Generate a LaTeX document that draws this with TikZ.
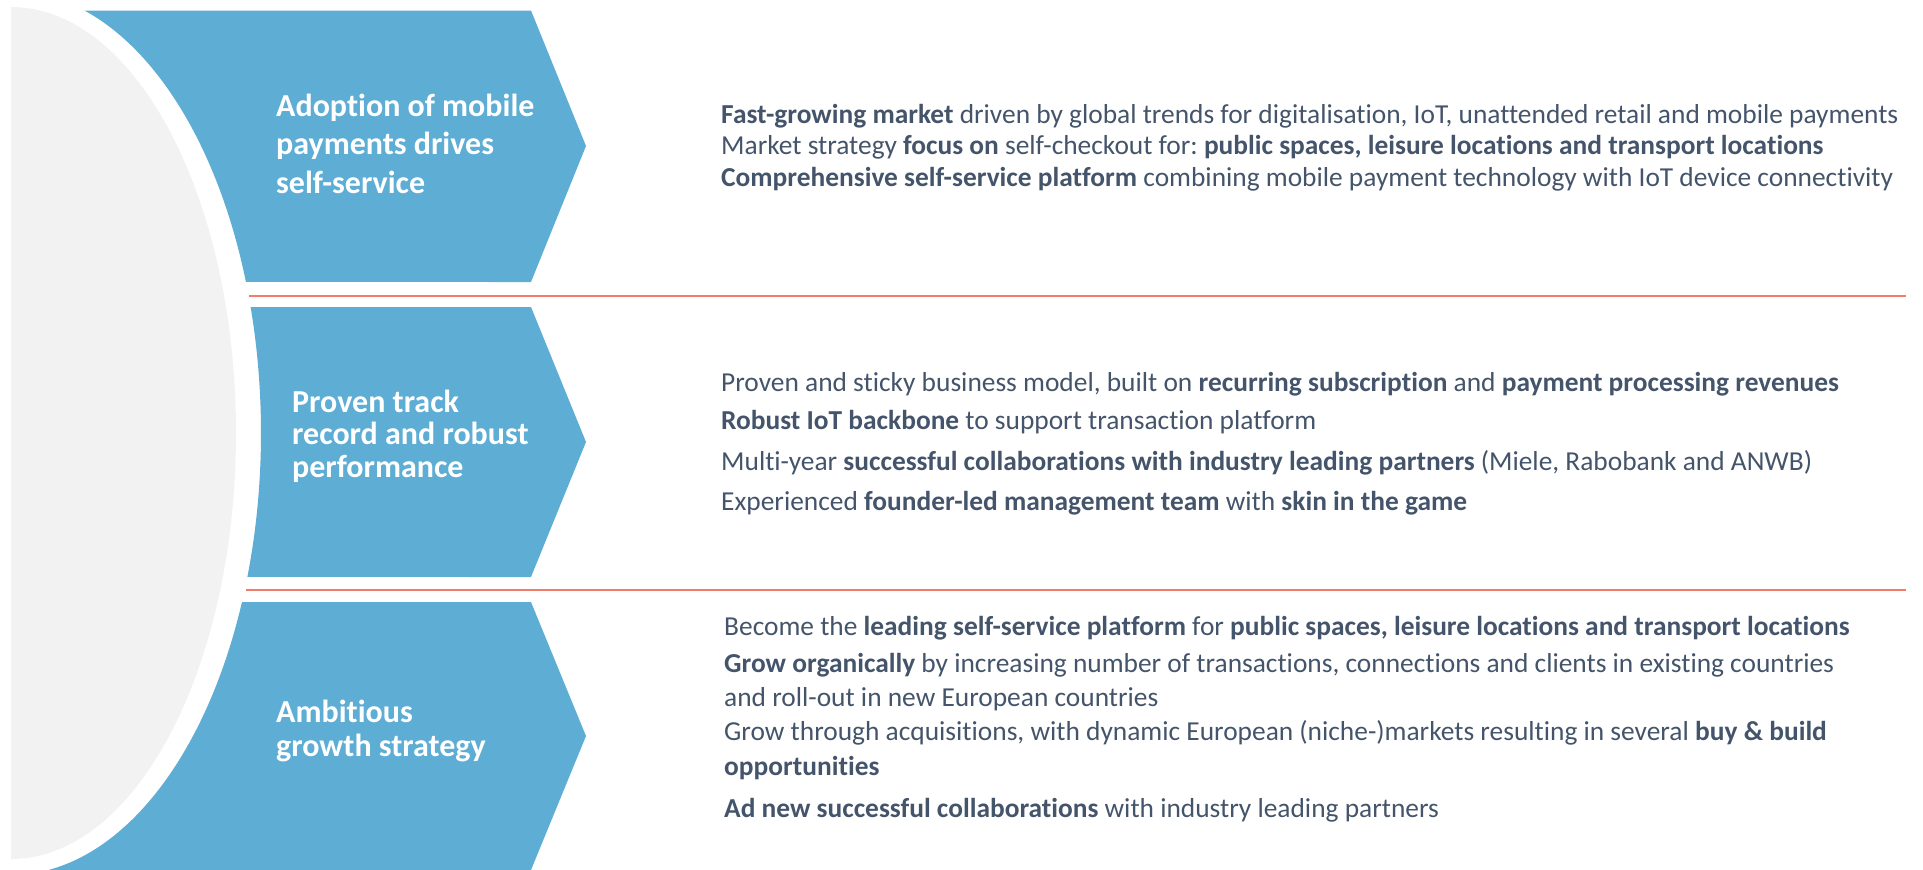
\documentclass[tikz,border=0pt]{standalone}
\usepackage{fontspec}
\setmainfont{Carlito}[Ligatures=NoCommon]
\frenchspacing
\definecolor{blueA}{HTML}{5DADD4}
\definecolor{grayC}{HTML}{F2F2F2}
\definecolor{textC}{HTML}{44546A}
\definecolor{sepC}{HTML}{F27C6C}
\begin{document}
\begin{tikzpicture}[x=1pt,y=1pt,
  chev/.style={fill=blueA, draw=none},
  lab/.style={anchor=base west, inner sep=0, text=white, font=\fontsize{32}{36}\selectfont\bfseries},
  txt/.style={anchor=base west, inner sep=0, text=textC, font=\fontsize{27.4}{30}\selectfont},
  sepline/.style={draw=sepC, line width=2pt}]
\useasboundingbox (0,0) rectangle (1923,-870);
% grey half ellipse
\fill[grayC] (11,-7) arc[start angle=90,end angle=-90,x radius=225,y radius=426] -- cycle;
% chevron 1
\fill[chev] ([shift={(11,-433)}]72.9:250 and 442) -- (531,-10.5) -- (586,-146) -- (531,-282)
  -- ([shift={(11,-433)}]19.98:250 and 442) arc[start angle=19.98,end angle=72.9,x radius=250,y radius=442] -- cycle;
% chevron 2
\fill[chev] ([shift={(11,-433)}]16.56:250 and 442) -- (531,-307) -- (586,-442) -- (531,-577)
  -- ([shift={(11,-433)}]-19.01:250 and 442) arc[start angle=-19.01,end angle=16.56,x radius=250,y radius=442] -- cycle;
% chevron 3
\fill[chev] ([shift={(11,-433)}]-22.48:250 and 442) -- (531,-602) -- (586,-736) -- (531,-870)
  -- ([shift={(11,-433)}]-81.37:250 and 442) arc[start angle=-81.37,end angle=-22.48,x radius=250,y radius=442] -- cycle;
% separators
\coordinate (s1a) at (249,-296); \coordinate (s1b) at (1906,-296);
\coordinate (s2a) at (246,-590); \coordinate (s2b) at (1906,-590);
\draw[sepline] (s1a) -- (s1b);
\draw[sepline] (s2a) -- (s2b);
% labels
\node[lab] (l1a) at (276,-116) {Adoption of mobile};
\node[lab] (l1b) at (276,-154.5) {payments drives};
\node[lab] (l1c) at (276,-193.5) {self-service};
\node[lab] (l2a) at (292,-412) {Proven track};
\node[lab] (l2b) at (292,-444.5) {record and robust};
\node[lab] (l2c) at (292,-477) {performance};
\node[lab] (l3a) at (276,-722) {Ambitious};
\node[lab] (l3b) at (276,-756) {growth strategy};
% row 1
\node[txt] (r1a) at (721,-123) {\textbf{Fast-growing market} driven by global trends for digitalisation, IoT, unattended retail and mobile payments};
\node[txt] (r1b) at (721,-154) {Market strategy \textbf{focus on} self-checkout for: \textbf{public spaces, leisure locations and transport locations}};
\node[txt] (r1c) at (721,-186) {\textbf{Comprehensive self-service platform} combining mobile payment technology with IoT device connectivity};
% row 2
\node[txt] (r2a) at (721,-391.5) {Proven and sticky business model, built on \textbf{recurring subscription} and \textbf{payment processing revenues}};
\node[txt] (r2b) at (721,-429.5) {\textbf{Robust IoT backbone} to support transaction platform};
\node[txt] (r2c) at (721,-470.5) {Multi-year \textbf{successful collaborations with industry leading partners} (Miele, Rabobank and ANWB)};
\node[txt] (r2d) at (721,-510.5) {Experienced \textbf{founder-led management team} with \textbf{skin in the game}};
% row 3
\node[txt] (r3a) at (724,-635.5) {Become the \textbf{leading self-service platform} for \textbf{public spaces, leisure locations and transport locations}};
\node[txt] (r3b) at (724,-672) {\textbf{Grow organically} by increasing number of transactions, connections and clients in existing countries};
\node[txt] (r3c) at (724,-706.5) {and roll-out in new European countries};
\node[txt] (r3d) at (724,-740.5) {Grow through acquisitions, with dynamic European (niche-)markets resulting in several \textbf{buy \& build}};
\node[txt] (r3e) at (724,-775) {\textbf{opportunities}};
\node[txt] (r3f) at (724,-817.5) {\textbf{Ad new successful collaborations} with industry leading partners};
\end{tikzpicture}
\end{document}
